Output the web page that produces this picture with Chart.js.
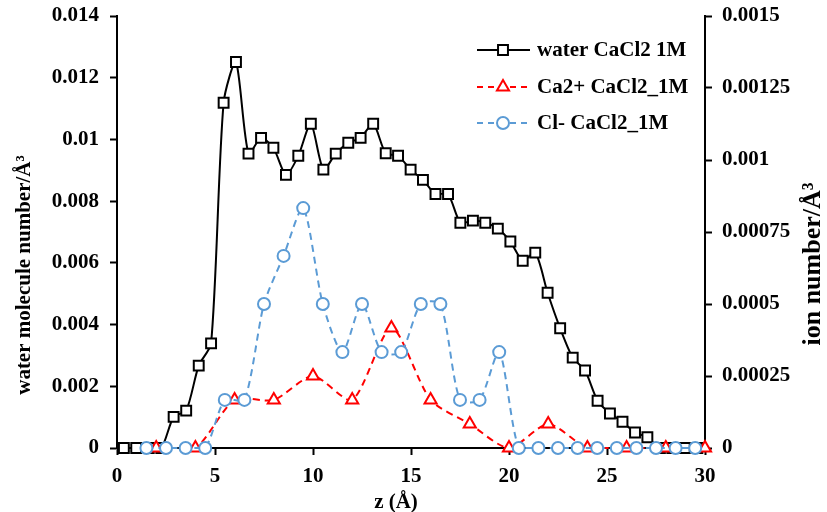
<!DOCTYPE html>
<html>
<head>
<meta charset="utf-8">
<script src="https://cdn.jsdelivr.net/npm/chart.js@4.4.1/dist/chart.umd.min.js"></script>
<style>
html,body{margin:0;padding:0;background:#fff;}
#wrap{width:827px;height:512px;position:relative;}
</style>
</head>
<body>
<div id="wrap"><canvas id="c" width="827" height="512"></canvas></div>
<script>
// ---- data ----
const waterX = [0.35,0.98,1.62,2.26,2.89,3.53,4.17,4.80,5.44,6.07,6.71,7.35,7.98,8.62,9.25,9.89,10.53,11.16,11.80,12.43,13.07,13.71,14.34,14.98,15.61,16.25,16.89,17.52,18.16,18.79,19.43,20.07,20.70,21.34,21.97,22.61,23.25,23.88,24.52,25.15,25.79,26.43,27.06,27.70,28.33,28.97,29.61];
const waterY = [0,0,0,0,0.00101,0.00121,0.00267,0.00339,0.01119,0.01251,0.00954,0.01005,0.00973,0.00885,0.00947,0.01051,0.00902,0.00954,0.00989,0.01005,0.01051,0.00955,0.00947,0.00902,0.00869,0.00823,0.00823,0.00730,0.00737,0.00730,0.00711,0.00669,0.00607,0.00633,0.00503,0.00388,0.00293,0.00251,0.00153,0.00112,0.00085,0.00050,0.00035,0,0,0,0];
const caX = [2,4,6,8,10,12,14,16,18,20,22,24,26,28,30];
const caY = [0,0,0.000167,0.000167,0.00025,0.000167,0.000417,0.000167,0.0000833,0,0.0000833,0,0,0,0];
const clX = [1.5,2.5,3.5,4.5,5.5,6.5,7.5,8.5,9.5,10.5,11.5,12.5,13.5,14.5,15.5,16.5,17.5,18.5,19.5,20.5,21.5,22.5,23.5,24.5,25.5,26.5,27.5,28.5,29.5];
const clY = [0,0,0,0,0.000167,0.000167,0.0005,0.000667,0.000833,0.0005,0.000333,0.0005,0.000333,0.000333,0.0005,0.0005,0.000167,0.000167,0.000333,0,0,0,0,0,0,0,0,0,0];
const seriesNames = ["water CaCl2 1M","Ca2+ CaCl2_1M","Cl- CaCl2_1M"];
const xTicks = [0,5,10,15,20,25,30];
const leftTicks = [0,0.002,0.004,0.006,0.008,0.01,0.012,0.014];
const rightTicks = [0,0.00025,0.0005,0.00075,0.001,0.00125,0.0015];
const xTitle = "z (Å)";
const leftTitle = "water molecule number/Å³";
const rightTitle = "ion number/Å³";

const FONT = "'Liberation Serif','Times New Roman',serif";
const BLUE = '#5B9BD5', RED = '#FF0000';

function pts(xs, ys){ return xs.map((x,i)=>({x:x, y:ys[i]})); }
function setTicks(arr){ return function(scale){ scale.ticks = arr.map(v=>({value:v})); }; }
function fixSize(w, h){
  return function(s){
    if (w !== null) s.width = w;
    if (h !== null) s.height = h;
    s.paddingTop = 0; s.paddingBottom = 0; s.paddingLeft = 0; s.paddingRight = 0;
  };
}

Chart.defaults.font.family = FONT;
Chart.defaults.font.weight = 'bold';
Chart.defaults.font.size = 21;
Chart.defaults.color = '#000';

const styles = [
  {color:'#000', dash:[], point:'rect', r:7},
  {color:RED, dash:[7,5], point:'triangle', r:7},
  {color:BLUE, dash:[7,5], point:'circle', r:6}
];

function drawMarker(ctx, kind, x, y, r, color){
  ctx.save();
  ctx.setLineDash([]);
  ctx.lineWidth = 2;
  ctx.strokeStyle = color;
  ctx.fillStyle = '#fff';
  ctx.beginPath();
  if(kind==='rect'){ const s = r*Math.SQRT1_2; ctx.rect(x-s,y-s,2*s,2*s); }
  else if(kind==='triangle'){
    let a = 0;
    ctx.moveTo(x+Math.sin(a)*r, y-Math.cos(a)*r);
    a += 2*Math.PI/3; ctx.lineTo(x+Math.sin(a)*r, y-Math.cos(a)*r);
    a += 2*Math.PI/3; ctx.lineTo(x+Math.sin(a)*r, y-Math.cos(a)*r);
    ctx.closePath();
  } else { ctx.arc(x,y,r,0,Math.PI*2); }
  ctx.fill(); ctx.stroke();
  ctx.restore();
}

const extras = {
  id:'extras',
  beforeDraw(chart){
    const ctx = chart.ctx;
    ctx.save(); ctx.fillStyle='#fff'; ctx.fillRect(0,0,chart.width,chart.height); ctx.restore();
  },
  afterDraw(chart){
    const ctx = chart.ctx;
    ctx.save();
    ctx.fillStyle = '#000';
    ctx.font = "bold 21px " + FONT;
    ctx.textAlign = 'center';
    ctx.textBaseline = 'middle';
    // x title
    ctx.fillText(xTitle, 396, 503);
    // left title
    ctx.save(); ctx.translate(25, 275); ctx.rotate(-Math.PI/2); ctx.fillText(leftTitle, 0, 0); ctx.restore();
    // right title
    ctx.save(); ctx.font = "bold 26px " + FONT; ctx.translate(813, 264); ctx.rotate(-Math.PI/2); ctx.fillText(rightTitle, 0, 0); ctx.restore();
    // legend
    const rows = [50, 87, 123];
    ctx.textAlign = 'left';
    seriesNames.forEach((name,i)=>{
      const st = styles[i], y = rows[i];
      ctx.save();
      ctx.strokeStyle = st.color; ctx.lineWidth = 2;
      ctx.setLineDash(st.dash.length ? [6,5] : []);
      ctx.beginPath(); ctx.moveTo(477,y); ctx.lineTo(530,y); ctx.stroke();
      ctx.restore();
      drawMarker(ctx, st.point, 503, y, st.r, st.color);
      ctx.fillStyle = '#000';
      ctx.fillText(name, 537, y+1);
    });
    ctx.restore();
  }
};

function ds(label, data, st, axis, order){
  return {
    label, data, yAxisID: axis, order,
    borderColor: st.color, borderWidth: 2, borderDash: st.dash,
    backgroundColor: '#fff',
    pointStyle: st.point, pointRadius: st.r, pointBorderWidth: 2,
    pointBorderColor: st.color, pointBackgroundColor: '#fff',
    tension: 0.25, fill: false, clip: false, showLine: true
  };
}

new Chart(document.getElementById('c'), {
  type: 'line',
  data: {
    datasets: [
      ds(seriesNames[0], pts(waterX, waterY), styles[0], 'y', 3),
      ds(seriesNames[1], pts(caX, caY), styles[1], 'y2', 2),
      ds(seriesNames[2], pts(clX, clY), styles[2], 'y2', 1)
    ]
  },
  options: {
    responsive: false,
    animation: false,
    events: [],
    layout: { padding: { top: 16, left: 0, right: 0, bottom: 0 } },
    plugins: { legend: { display: false }, tooltip: { enabled: false } },
    scales: {
      x: {
        type: 'linear', min: 0, max: 30,
        afterBuildTicks: setTicks(xTicks),
        afterFit: fixSize(null, 64),
        border: { display: true, color: '#000', width: 2 },
        grid: { display: true, drawOnChartArea: false, drawTicks: true, tickLength: 7, tickWidth: 2, tickColor: '#000' },
        ticks: { padding: 9, maxRotation: 0, autoSkip: false, callback: v => String(v) }
      },
      y: {
        position: 'left', min: 0, max: 0.014,
        afterBuildTicks: setTicks(leftTicks),
        afterFit: fixSize(117, null),
        border: { display: true, color: '#000', width: 2 },
        grid: { display: true, drawOnChartArea: false, drawTicks: true, tickLength: 7, tickWidth: 2, tickColor: '#000' },
        ticks: { padding: 11, autoSkip: false, callback: v => String(v) }
      },
      y2: {
        position: 'right', min: 0, max: 0.0015,
        afterBuildTicks: setTicks(rightTicks),
        afterFit: fixSize(122, null),
        border: { display: true, color: '#000', width: 2 },
        grid: { display: true, drawOnChartArea: false, drawTicks: true, tickLength: 7, tickWidth: 2, tickColor: '#000' },
        ticks: { padding: 10, autoSkip: false, callback: v => String(v) }
      }
    }
  },
  plugins: [extras]
});
</script>
</body>
</html>
